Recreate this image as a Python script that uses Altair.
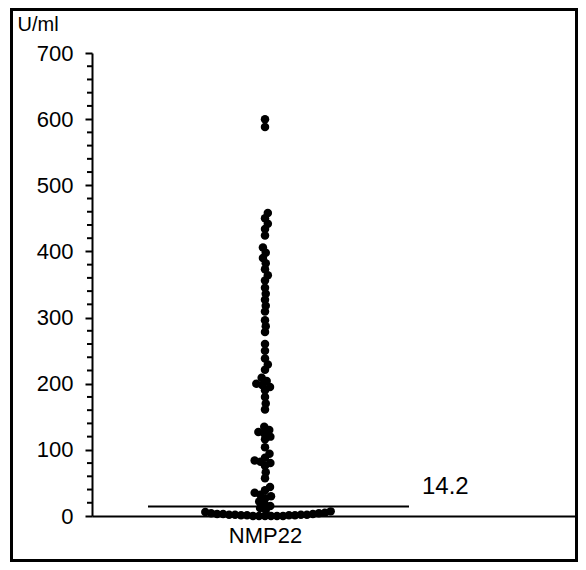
import math
import altair as alt
import pandas as pd

# ---- data ----
CATEGORY = "NMP22"
UNIT = "U/ml"
MEDIAN = 14.2
VALUES = [600, 588,
          458, 450, 442, 434, 424, 406, 398, 390,
          382, 373, 364, 356,
          345, 336, 327, 318, 309,
          296, 287, 278,
          260, 250,
          238, 229, 221,
          209, 204, 200, 198, 195, 190,
          180, 170, 161,
          135, 130, 127, 125, 120, 116,
          104,
          94, 88, 84, 82, 80, 76,
          66, 57,
          44, 39, 35, 32, 30, 27,
          22, 18, 15,
          12, 9, 7, 6, 5, 4, 4, 3, 3, 3, 2, 2, 2, 2, 1, 1, 1, 1, 0, 0, 0, 0, 0, 0]
Y_TICKS = [0, 100, 200, 300, 400, 500, 600, 700]
Y_MINOR = [v for v in range(0, 701, 20) if v % 100 != 0]

# ---- layout ----
W, H = 486, 463
PAD = {"left": 84, "top": 45, "right": 0, "bottom": 46}
Y_MAX = 700
PX_PER_UNIT = H / Y_MAX
X_DOMAIN = [-173, W - 173]
D = 6.0  # collision distance in px for the dot swarm
FONT = "Liberation Sans"


def beeswarm(values, ppu, d):
    order = sorted(range(len(values)), key=lambda i: values[i])
    placed = []
    xs = [0.0] * len(values)
    for i in order:
        y = values[i] * ppu
        cands = [0.0]
        for (px, py) in placed:
            dy = abs(py - y)
            if dy < d:
                dx = math.sqrt(d * d - dy * dy)
                cands += [px + dx, px - dx]

        def ok(x):
            for (px, py) in placed:
                if (px - x) ** 2 + (py - y) ** 2 < d * d - 1e-6:
                    return False
            return True

        best = min((c for c in cands if ok(c)), key=lambda c: (abs(c), -c))
        xs[i] = best
        placed.append((best, y))
    return xs


pts = pd.DataFrame({"value": VALUES, "x": beeswarm(VALUES, PX_PER_UNIT, D)})
xscale = alt.Scale(domain=X_DOMAIN, nice=False, zero=False)
yscale = alt.Scale(domain=[0, Y_MAX], nice=False)

xaxis = alt.Axis(values=[0], labelExpr=f"'{CATEGORY}'", ticks=False, grid=False,
                 title=None, domainColor="black", domainWidth=2,
                 labelFontSize=22, labelPadding=9, labelFont=FONT,
                 labelColor="black")
yaxis = alt.Axis(values=Y_TICKS, grid=False, tickSize=7, tickWidth=2,
                 tickColor="black", domainColor="black", domainWidth=2,
                 labelPadding=12, labelFontSize=22, labelFont=FONT,
                 labelColor="black",
                 title=UNIT, titleAngle=0, titleX=-75, titleY=-23,
                 titleAlign="left", titleBaseline="alphabetic",
                 titleFontWeight="normal", titleFontSize=20,
                 titleFont=FONT, titleColor="black")


def X(f):
    return alt.X(f, type="quantitative", scale=xscale, axis=xaxis)


def Y(f):
    return alt.Y(f, type="quantitative", scale=yscale, axis=yaxis)


points = alt.Chart(pts).mark_circle(size=72, color="black", opacity=1).encode(
    x=X("x"), y=Y("value"),
)

minor = alt.Chart(pd.DataFrame({"value": Y_MINOR})).mark_rule(
    color="black", strokeWidth=2).encode(
    y=Y("value"), x=alt.value(-5), x2=alt.value(0),
)

med_df = pd.DataFrame({"value": [MEDIAN], "x": [-117], "x2": [144], "lx": [157],
                       "label": [str(MEDIAN)]})
median = alt.Chart(med_df).mark_rule(color="black", strokeWidth=2).encode(
    y=Y("value"), x=X("x"), x2="x2:Q",
)
med_label = alt.Chart(med_df).mark_text(align="left", baseline="middle", dy=-20,
                                        fontSize=24, font=FONT, color="black").encode(
    y=Y("value"), x=X("lx"), text="label:N",
)

svg_w = PAD["left"] + W + PAD["right"]
svg_h = PAD["top"] + H + PAD["bottom"]
frame = alt.Chart(pd.DataFrame({"a": [0]})).mark_rect(filled=False, stroke="black",
                                                     strokeWidth=3).encode(
    x=alt.value(3.5 - PAD["left"]), x2=alt.value(svg_w - 1.5 - PAD["left"]),
    y=alt.value(1.5 - PAD["top"]), y2=alt.value(svg_h - 1.5 - PAD["top"]),
)

chart = alt.layer(frame, minor, median, points, med_label).properties(
    width=W, height=H,
    autosize=alt.AutoSizeParams(type="none"),
    padding=PAD,
    background="white",
).configure_view(stroke=None)

chart.save("out.html", embed_options={"renderer": "svg", "actions": False})
